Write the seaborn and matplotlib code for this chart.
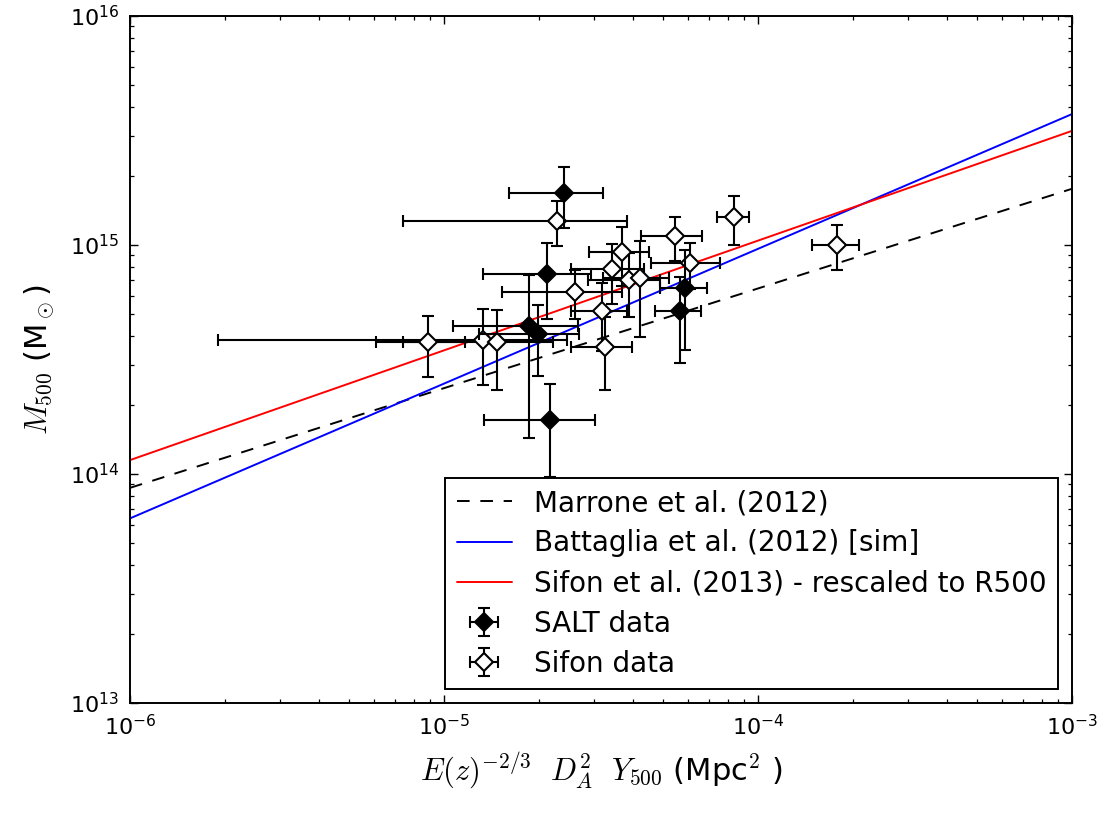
import matplotlib
matplotlib.use("Agg")
import matplotlib.pyplot as plt
from matplotlib.lines import Line2D
import seaborn as sns
import pandas as pd

# --- scaling relations: M500 at the two ends of the Y range (power laws) ---
y_ends = [1e-6, 1e-3]
marrone_m = [8.7e13, 1.76e15]
battaglia_m = [6.4e13, 3.73e15]
sifon_fit_m = [1.15e14, 3.15e15]

# --- SALT clusters ---
salt_y = [2.41e-5, 2.13e-5, 1.87e-5, 1.99e-5, 2.18e-5, 5.86e-5, 5.65e-5]
salt_yerr = [0.80e-5, 0.80e-5, 0.80e-5, 0.70e-5, 0.84e-5, 1.00e-5, 0.95e-5]
salt_m = [1.69e15, 7.47e14, 4.43e14, 4.08e14, 1.72e14, 6.49e14, 5.15e14]
salt_merr = [5.0e14, 2.7e14, 3.0e14, 1.4e14, 0.75e14, 3.0e14, 2.1e14]

# --- Sifon et al. clusters ---
sifon_y = [2.29e-5, 8.39e-5, 1.79e-4, 5.45e-5, 6.07e-5, 3.69e-5, 3.43e-5, 3.88e-5,
           4.21e-5, 2.61e-5, 3.18e-5, 3.26e-5, 8.89e-6, 1.33e-5, 1.48e-5]
sifon_yerr = [1.55e-5, 1.0e-5, 0.30e-4, 1.2e-5, 1.5e-5, 0.8e-5, 0.9e-5, 1.0e-5,
              1.0e-5, 1.08e-5, 0.65e-5, 0.72e-5, 2.8e-6, 1.14e-5, 0.74e-5]
sifon_m = [1.27e15, 1.32e15, 1.00e15, 1.09e15, 8.34e14, 9.31e14, 7.85e14, 7.03e14,
           7.18e14, 6.24e14, 5.15e14, 3.59e14, 3.77e14, 3.85e14, 3.77e14]
sifon_merr = [2.8e14, 3.2e14, 2.2e14, 2.4e14, 1.9e14, 2.7e14, 2.3e14, 2.2e14,
              3.2e14, 1.5e14, 1.7e14, 1.26e14, 1.12e14, 1.4e14, 1.45e14]

labels = ["Marrone et al. (2012)", "Battaglia et al. (2012) [sim]",
          "Sifon et al. (2013) - rescaled to R500", "SALT data", "Sifon data"]

sns.set_theme(style="ticks")
plt.rcParams.update({
    "font.family": ["DejaVu Sans"],
    "mathtext.fontset": "cm",
    "axes.unicode_minus": False,
    "text.color": "black",
    "axes.labelcolor": "black",
    "axes.linewidth": 1.4,
    "axes.edgecolor": "black",
    "xtick.direction": "in", "ytick.direction": "in",
    "xtick.top": True, "ytick.right": True,
    "xtick.major.size": 6, "ytick.major.size": 6,
    "xtick.minor.size": 3, "ytick.minor.size": 3,
    "xtick.major.width": 1.0, "ytick.major.width": 1.0,
    "xtick.minor.width": 0.9, "ytick.minor.width": 0.9,
    "xtick.color": "black", "ytick.color": "black",
    "xtick.labelcolor": "black", "ytick.labelcolor": "black",
    "xtick.labelsize": 16, "ytick.labelsize": 16,
    "xtick.major.pad": 8, "ytick.major.pad": 8,
})

fig = plt.figure(figsize=(11.07, 8.16), dpi=100)
ax = fig.add_axes([130 / 1107, 1 - 703 / 816, (1072 - 130) / 1107, (703 - 16) / 816])
ax.set_xscale("log")
ax.set_yscale("log")

lines = pd.DataFrame({"Y": y_ends * 3,
                      "M": marrone_m + battaglia_m + sifon_fit_m,
                      "rel": [labels[0]] * 2 + [labels[1]] * 2 + [labels[2]] * 2})
sns.lineplot(data=lines[lines.rel == labels[0]], x="Y", y="M", ax=ax, color="black",
             lw=1.4, linestyle=(0, (6.5, 5.5)), zorder=2)
sns.lineplot(data=lines[lines.rel == labels[1]], x="Y", y="M", ax=ax, color="blue",
             lw=1.4, zorder=2)
sns.lineplot(data=lines[lines.rel == labels[2]], x="Y", y="M", ax=ax, color="red",
             lw=1.4, zorder=2)

err_kw = dict(fmt="D", ms=9, mec="black", mew=1.5, ecolor="black",
              elinewidth=1.5, capsize=4.5, capthick=1.5)
eb_salt = ax.errorbar(salt_y, salt_m, xerr=salt_yerr, yerr=salt_merr, mfc="black",
                      zorder=4, **err_kw)
eb_sifon = ax.errorbar(sifon_y, sifon_m, xerr=sifon_yerr, yerr=sifon_merr, mfc="white",
                       zorder=3, **err_kw)

ax.set_xlim(1e-6, 1e-3)
ax.set_ylim(1e13, 1e16)

ax.set_xlabel(r"$E(z)^{-2/3}\ \ D_A^2\ \ Y_{500}$ (Mpc$^2$ )", fontsize=22, labelpad=8)
ax.set_ylabel(r"$M_{500}$ (M$_\odot$)", fontsize=22, labelpad=10)

handles = [Line2D([], [], color="black", lw=1.4, linestyle=(0, (6.5, 5.5))),
           Line2D([], [], color="blue", lw=1.4),
           Line2D([], [], color="red", lw=1.4),
           eb_salt, eb_sifon]
leg = ax.legend(handles, labels, loc="lower right", fontsize=20, frameon=True,
                fancybox=False, framealpha=1, edgecolor="black", handlelength=2.0,
                handletextpad=0.8, borderpad=0.4, labelspacing=0.44, borderaxespad=0.5)
leg.get_frame().set_linewidth(1.4)
for t in leg.get_texts():
    t.set_color("black")

fig.savefig("out.png", dpi=100)
